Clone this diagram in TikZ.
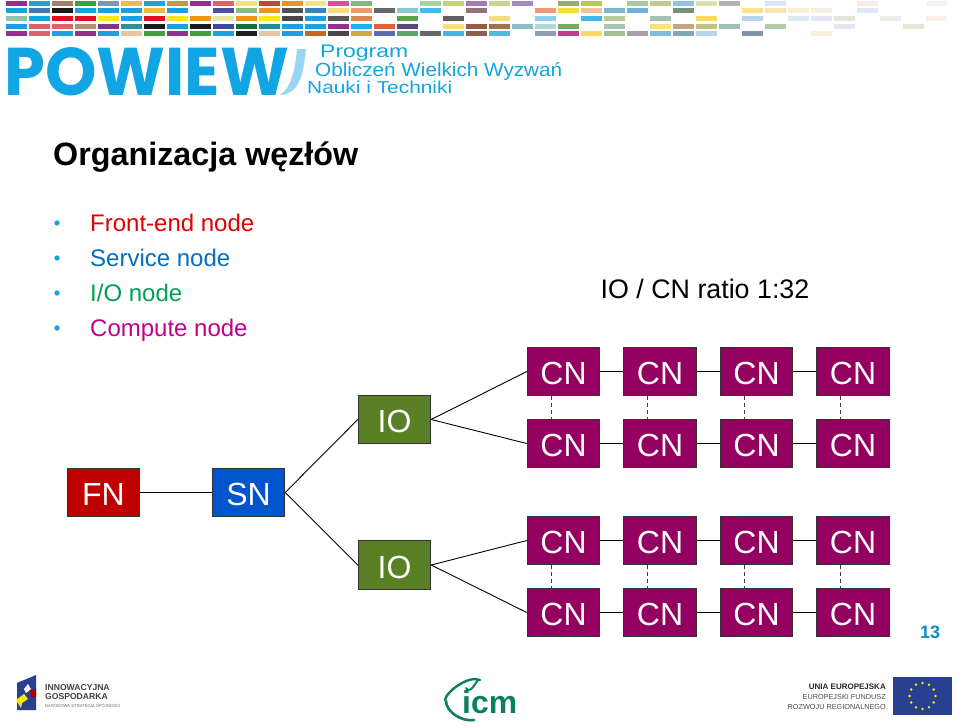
\documentclass[tikz,border=0pt]{standalone}
\usepackage{fontspec}
\usepackage{graphicx}
\setmainfont{Liberation Sans}
\newfontfamily\logofont{Poppins}
\definecolor{fnred}{HTML}{C00000}
\definecolor{snblue}{HTML}{0055CC}
\definecolor{iogreen}{HTML}{5A8026}
\definecolor{cnpurple}{HTML}{94005F}
\definecolor{powblue}{HTML}{12A5E3}
\definecolor{powlight}{HTML}{9AD6F3}
\definecolor{euflag}{HTML}{27408F}
\definecolor{icmgreen}{HTML}{0B8060}
\newcommand\striprow[2]{\foreach \c/\h in {#2}{\definecolor{st}{HTML}{\h}\fill[st] ({6.3+23*\c},#1) rectangle ++(20.7,5.2);}}
\tikzset{
  sysbox/.style={draw=black!80,line width=0.9pt,minimum width=72.5pt,minimum height=48.5pt,inner sep=0pt,text=white,text height=26pt,text depth=0pt,font=\fontsize{32}{32}\selectfont},
  fnbox/.style={sysbox,fill=fnred},
  snbox/.style={sysbox,fill=snblue},
  iobox/.style={sysbox,fill=iogreen},
  cnbox/.style={sysbox,fill=cnpurple},
  link/.style={draw=black,line width=0.9pt},
  dlink/.style={draw=black!75,line width=0.9pt,dash pattern=on 4pt off 3pt},
  bullettext/.style={anchor=base west,inner sep=0pt,font=\fontsize{24}{24}\selectfont},
  plain/.style={inner sep=0pt},
}
\begin{document}
\begin{tikzpicture}[x=1pt,y=-1pt]
\useasboundingbox (0,0) rectangle (960,726);
\fill[white] (0,0) rectangle (960,726);
% strips
\striprow{0.8}{0/943090,1/1BA1E2,2/A88068,3/3FA040,4/7F97AC,5/EDBB45,6/1BA1E2,7/C09A45,8/943090,9/DF5F6A,10/F6DF80,11/B84A3A,12/EE9320,13/F0E588,14/DE4E96,15/80B880,18/A9D0A5,19/C3D27A,20/A67CB0,21/C9D58C,22/A08CC0,24/95AD70,25/B5CC5A,27/A9C79B,28/BCC98F,29/8FC3E8,30/DDE0B0,31/B7B0BB,33/DDE6F5,37/F5ECE6,40/EDF3F8}
\striprow{8.2}{0/1BA1E2,1/3D7AB5,2/1A1A1A,3/1BA1E2,4/1BA1E2,5/1BA1E2,6/EDBB45,7/1BA1E2,9/4A4FA0,10/88BF80,11/EE9320,12/505050,13/2F85C0,14/F8DA80,15/EC9A70,16/606868,17/88CCD0,18/3FBCEC,20/94707A,23/EE9A78,24/F3E040,25/F0C49A,26/7FB8C8,27/6FB3E0,29/7A8F78,32/F8E08A,33/F5E4AC,34/FAF0D8,35/F8EFDF,37/DFE9F5}
\striprow{16}{0/8CC5A8,1/1BA1E2,2/E01020,3/E01020,4/FFE61A,5/1BA1E2,6/E01020,7/FFE61A,8/EE9320,9/E8E6A0,10/EE9320,11/FFE61A,12/484848,13/1BA1E2,14/585858,15/D98650,17/5AA84A,19/606060,21/F8DA80,23/8FD0EE,25/3FB8EC,26/B9C99A,28/A5C4AE,30/FFD860,32/B8D4EC,34/DFE8F5,35/E4E6F5,36/E5E5DA,38/EEEEE8,40/FAEEE6}
\striprow{23.6}{0/1BA1E2,1/DF5F6A,2/DF5F6A,3/B58F70,4/8A308C,5/2F8F9A,6/1A1A1A,7/1BA1E2,8/1A1A1A,9/3D4A9A,10/157038,11/1A8F95,12/1BA1E2,13/1BA1E2,14/943090,15/1BB0E8,16/E0603A,17/5A4A7A,19/FBDC80,20/9A5A40,21/A07050,22/88BFC5,23/AFD8DC,24/6FAE60,26/A9C4B4,28/FFE080,29/BFA880,30/C5C080,31/A0BFB8,33/B0CBA8,36/E4E6EF,39/E8E4D0}
\striprow{31.2}{0/943090,1/DF5F6A,2/1BA1E2,3/943090,4/1BA1E2,5/E8C4A0,6/3FA040,7/943090,8/3FA040,9/1BA1E2,10/202020,11/E8C4A0,12/1BA1E2,13/C8681F,14/484848,15/D0A848,16/5A6AB0,17/58A868,18/686868,19/3FB8EC,20/8A6050,21/4FBBE0,23/8A9FB0,24/C83A90,25/FFD860,26/A5BF90,27/A89FA8,28/80BCE0,29/7FA8B4,30/B8D4EC,32/8494A5,35/F8EFDF}
% POWIEW logo
\node[plain,text=powblue,anchor=west] (powiew) at (4,71.5) {\resizebox{285pt}{48pt}{\logofont\bfseries POWIEW}};
\fill[powlight] (297,49) -- (306,49) .. controls (303,75) and (300,92) .. (282,95) -- (280,95) .. controls (291,88) and (295,70) .. (297,49) -- cycle;
\node[plain,text=powblue,anchor=west] (prog1) at (320,53) {\resizebox{88pt}{12.5pt}{Program}};
\node[plain,text=powblue,anchor=west] (prog2) at (315,71.3) {\resizebox{247pt}{14pt}{Obliczeń Wielkich Wyzwań}};
\node[plain,text=powblue,anchor=west] (prog3) at (307,87.5) {\resizebox{145pt}{12.5pt}{Nauki i Techniki}};
% title
\node[plain,anchor=base west,font=\fontsize{32.3}{33}\selectfont\bfseries] (title) at (53,165) {Organizacja węzłów};
% bullets
\foreach \nm/\yy/\col/\txt in {b1/231/E00000/{Front-end node},b2/266/0070C0/{Service node},b3/301/00A050/{I/O node},b4/336/C0008C/{Compute node}}{
  \definecolor{bc}{HTML}{\col}
  \node[bullettext,text=bc] (\nm) at (90,\yy) {\txt};
  \fill[powblue] (57,{\yy-8}) circle (2.7);
}
\node[plain,anchor=base,font=\fontsize{26.8}{27}\selectfont] (ratio) at (705,298) {IO / CN ratio 1:32};
% nodes
\node[fnbox] (fn) at (103.5,492.5) {FN};
\node[snbox] (sn) at (248.5,492.5) {SN};
\node[iobox] (io1) at (394.5,419.5) {IO};
\node[iobox] (io2) at (394.5,565) {IO};
\foreach \r/\yy in {a/371.5,b/443.5,c/540.5,d/612.5}{
  \foreach \k/\xx in {1/563.5,2/660,3/756.5,4/853}{
    \node[cnbox] (\r\k) at (\xx,\yy) {CN};
  }
}
% connectors
\draw[link] (fn) -- (sn);
\draw[link] (sn.east) -- (io1.west);
\draw[link] (sn.east) -- (io2.west);
\draw[link] (io1.east) -- (a1.west);
\draw[link] (io1.east) -- (b1.west);
\draw[link] (io2.east) -- (c1.west);
\draw[link] (io2.east) -- (d1.west);
\foreach \r in {a,b,c,d}{
  \draw[link] (\r1) -- (\r2);
  \draw[link] (\r2) -- (\r3);
  \draw[link] (\r3) -- (\r4);
}
\foreach \k in {1,2,3,4}{
  \draw[dlink] ([xshift=-12.5pt]a\k.south) -- ([xshift=-12.5pt]b\k.north);
  \draw[dlink] ([xshift=-12.5pt]c\k.south) -- ([xshift=-12.5pt]d\k.north);
}
% page number
\node[plain,anchor=base,text=powblue!85!black,font=\fontsize{18}{18}\selectfont\bfseries] (page) at (930,638) {13};
% footer left
\fill[euflag] (17,683) -- (36,675) -- (36,710) -- (17,710) -- cycle;
\fill[white] (28,684) -- (31,689) -- (26,693) -- (24,689) -- cycle;
\fill[red!70!black] (30,690) -- (36,689) -- (36,697) -- (31,697) -- cycle;
\fill[yellow!90!orange] (16,700) -- (24,694) -- (28,699) -- (22,703) -- (21,708) -- cycle;
\node[plain,anchor=base west,font=\fontsize{8.6}{9}\selectfont\bfseries,text=black!75] (ig1) at (45,690) {INNOWACYJNA};
\node[plain,anchor=base west,font=\fontsize{8.6}{9}\selectfont\bfseries,text=black!75] (ig2) at (45,699.5) {GOSPODARKA};
\node[plain,anchor=base west,font=\fontsize{4.2}{5}\selectfont,text=black!60] (ig3) at (45,707) {NARODOWA STRATEGIA SPÓJNOŚCI};
% footer icm
\draw[icmgreen,line width=2.4pt,line cap=round] (480,680) .. controls (468,675) and (446,692) .. (445,700);
\draw[icmgreen,line width=2.6pt,line cap=round] (446,701) .. controls (446,712) and (462,722) .. (474,720);
\draw[icmgreen,line width=2pt,line cap=round] (466,688) .. controls (470,695) and (476,682) .. (478,680);
\node[plain,anchor=base west,text=icmgreen,font=\fontsize{28}{28}\selectfont\bfseries] (icm) at (462,713) {\resizebox{55pt}{!}{icm}};
% footer right
\node[plain,anchor=base east,font=\fontsize{8}{9}\selectfont\bfseries,text=black!85] (ue1) at (886,689.5) {UNIA EUROPEJSKA};
\node[plain,anchor=base east,font=\fontsize{7.3}{9}\selectfont,text=black!70] (ue2) at (886,699.5) {EUROPEJSKI FUNDUSZ};
\node[plain,anchor=base east,font=\fontsize{7.3}{9}\selectfont,text=black!70] (ue3) at (886,709) {ROZWOJU REGIONALNEGO};
\fill[euflag] (893,677) rectangle (952,715);
\foreach \a in {0,30,...,330}{
  \fill[yellow!90!orange] ({922.5+13*cos(\a)},{696+13*sin(\a)}) circle (1.4);
}
\end{tikzpicture}
\end{document}
